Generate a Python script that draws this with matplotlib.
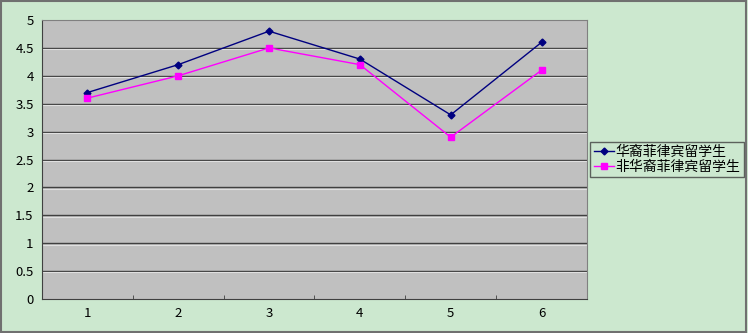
import numpy as np
import matplotlib.pyplot as plt
from matplotlib.patches import Rectangle

plt.rcParams['font.family'] = ['Noto Sans CJK SC', 'DejaVu Sans']

categorias = ['1', '2', '3', '4', '5', '6']
huayi = [3.7, 4.2, 4.8, 4.3, 3.3, 4.6]
fei_huayi = [3.6, 4.0, 4.5, 4.2, 2.9, 4.1]
nombres = ['华裔菲律宾留学生', '非华裔菲律宾留学生']

fig = plt.figure(figsize=(7.48, 3.33), dpi=100, facecolor='#cce8cf')
ax = fig.add_axes([0.0561, 0.1021, 0.7286, 0.8378])
ax.set_facecolor('#c0c0c0')

x = np.arange(1, len(categorias) + 1)
ax.plot(x, huayi, color='#000080', marker='D', markersize=3.5, linewidth=1, label=nombres[0])
ax.plot(x, fei_huayi, color='#ff00ff', marker='s', markersize=5, linewidth=1, label=nombres[1])

ax.set_xlim(0.5, len(categorias) + 0.5)
ax.set_ylim(0, 5)
ax.set_yticks(np.arange(0, 5.01, 0.5))
ax.set_yticklabels(['0', '0.5', '1', '1.5', '2', '2.5', '3', '3.5', '4', '4.5', '5'])
ax.set_xticks(x)
ax.set_xticklabels(categorias)
ax.set_xticks(np.arange(1.5, len(categorias) + 0.5, 1), minor=True)
ax.tick_params(axis='x', which='major', length=0, pad=6, labelsize=9.5)
ax.tick_params(axis='x', which='minor', direction='in', length=3, color='#404040')
ax.tick_params(axis='y', length=0, pad=6, labelsize=9.5)

# lineas de cuadricula con efecto de relieve
for v in np.arange(0.5, 5.0, 0.5):
    ax.axhline(v, color='#404040', linewidth=1, zorder=1)
    ax.axhline(v - 0.025, color='#e0e0e0', linewidth=0.8, zorder=1)

for lado in ['top', 'right']:
    ax.spines[lado].set_color('#808080')
for lado in ['left', 'bottom']:
    ax.spines[lado].set_color('#404040')

leg = ax.legend(loc='center left', bbox_to_anchor=(0.998, 0.5), fontsize=10,
                frameon=True, fancybox=False, borderpad=0.25, handlelength=1.5,
                handletextpad=0.1, labelspacing=0.05, borderaxespad=0.3)
leg.get_frame().set_edgecolor('#404040')
leg.get_frame().set_facecolor('#cce8cf')
leg.get_frame().set_linewidth(1)

fig.patches.append(Rectangle((0.002, 0.003), 0.995, 0.993, transform=fig.transFigure,
                             fill=False, edgecolor='#707070', linewidth=1.5))

plt.savefig('out.png', dpi=100, facecolor=fig.get_facecolor())
